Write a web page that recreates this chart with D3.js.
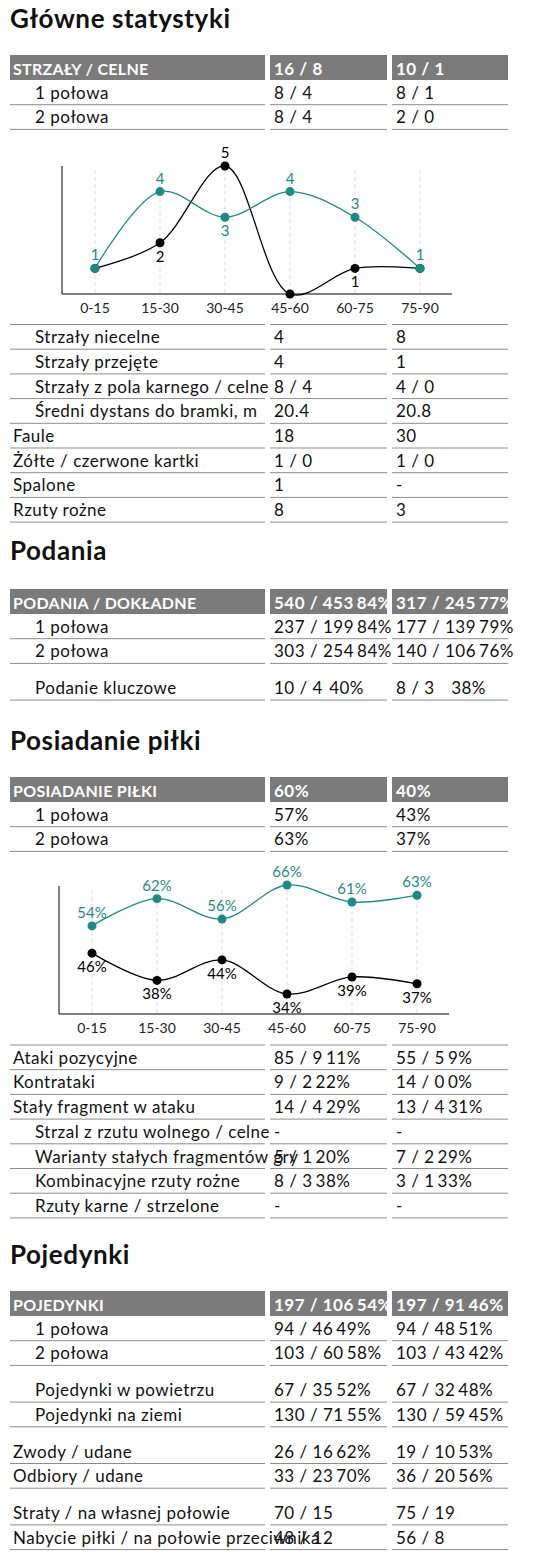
<!DOCTYPE html>
<html><head><meta charset="utf-8">
<script src="https://cdn.jsdelivr.net/npm/d3@7"></script>
<style>
body{margin:0;background:#fff}
svg text{font-family:Lato,"Open Sans",sans-serif}
</style></head>
<body><svg id="c" width="559" height="1566"></svg>
<script>
// ---- data ----
var periods = ["0-15","15-30","30-45","45-60","60-75","75-90"];
var shotsTeam1 = [1,4,3,4,3,1];
var shotsTeam2 = [1,2,5,0,1,1];
var possTeam1 = [54,62,56,66,61,63];
var possTeam2 = [46,38,44,34,39,37];

// [label, indent, value1, pct1, value2, pct2]; null = spacer
var shotsHeader = ["STRZAŁY / CELNE","16 / 8","","10 / 1",""];
var shotsRowsA = [
  ["1 połowa",1,"8 / 4","","8 / 1",""],
  ["2 połowa",1,"8 / 4","","2 / 0",""]
];
var shotsRowsB = [
  ["Strzały niecelne",1,"4","","8",""],
  ["Strzały przejęte",1,"4","","1",""],
  ["Strzały z pola karnego / celne",1,"8 / 4","","4 / 0",""],
  ["Średni dystans do bramki, m",1,"20.4","","20.8",""],
  ["Faule",0,"18","","30",""],
  ["Żółte / czerwone kartki",0,"1 / 0","","1 / 0",""],
  ["Spalone",0,"1","","-",""],
  ["Rzuty rożne",0,"8","","3",""]
];
var passHeader = ["PODANIA / DOKŁADNE","540 / 453","84%","317 / 245","77%"];
var passRows = [
  ["1 połowa",1,"237 / 199","84%","177 / 139","79%"],
  ["2 połowa",1,"303 / 254","84%","140 / 106","76%"],
  null,
  ["Podanie kluczowe",1,"10 / 4","40%","8 / 3","38%"]
];
var possHeader = ["POSIADANIE PIŁKI","60%","","40%",""];
var possRowsA = [
  ["1 połowa",1,"57%","","43%",""],
  ["2 połowa",1,"63%","","37%",""]
];
var possRowsB = [
  ["Ataki pozycyjne",0,"85 / 9","11%","55 / 5","9%"],
  ["Kontrataki",0,"9 / 2","22%","14 / 0","0%"],
  ["Stały fragment w ataku",0,"14 / 4","29%","13 / 4","31%"],
  ["Strzal z rzutu wolnego / celne",1,"-","","-",""],
  ["Warianty stałych fragmentów gry",1,"5 / 1","20%","7 / 2","29%"],
  ["Kombinacyjne rzuty rożne",1,"8 / 3","38%","3 / 1","33%"],
  ["Rzuty karne /  strzelone",1,"-","","-",""]
];
var duelHeader = ["POJEDYNKI","197 / 106","54%","197 / 91","46%"];
var duelRows = [
  ["1 połowa",1,"94 / 46","49%","94 / 48","51%"],
  ["2 połowa",1,"103 / 60","58%","103 / 43","42%"],
  null,
  ["Pojedynki w powietrzu",1,"67 / 35","52%","67 / 32","48%"],
  ["Pojedynki na ziemi",1,"130 / 71","55%","130 / 59","45%"],
  null,
  ["Zwody / udane",0,"26 / 16","62%","19 / 10","53%"],
  ["Odbiory / udane",0,"33 / 23","70%","36 / 20","56%"],
  null,
  ["Straty / na własnej połowie",0,"70 / 15","","75 / 19",""],
  ["Nabycie piłki / na połowie przeciwnika",0,"48 / 12","","56 / 8",""]
];

// ---- drawing ----
var svg = d3.select("#c");
var TEAL = "#1f8a85", LINE = "#8c8c8c", HEAD = "#7b7b7b";
var cols = [[10,265],[270,387],[392,508]];
var rowH = 24.7;
var FS = 17, LS = 0.5;

function title(t, y) {
  svg.append("text").attr("x",10).attr("y",y).attr("font-size",26).attr("letter-spacing",0.6)
    .attr("font-weight",700).attr("fill","#111").text(t);
}

function cell(g, x, y, val, pct, pctRight, color, bold) {
  var t = g.append("text").attr("x",x).attr("y",y).attr("font-size",FS).attr("letter-spacing",LS)
    .attr("fill",color).attr("font-weight",bold?700:400).text(val);
  if (!pct) return;
  var end = x + t.node().getComputedTextLength();
  var p = g.append("text").attr("y",y).attr("font-size",FS).attr("letter-spacing",LS)
    .attr("fill",color).attr("font-weight",bold?700:400).text(pct);
  var w = p.node().getComputedTextLength();
  p.attr("x", Math.max(end + 3, pctRight - w));
}

function header(h, top, pr) {
  var g = svg.append("g");
  cols.forEach(function(c){
    g.append("rect").attr("x",c[0]).attr("y",top).attr("width",c[1]-c[0]).attr("height",25).attr("fill",HEAD);
  });
  g.append("text").attr("x",13).attr("y",top+20).attr("font-size",16).attr("font-weight",700)
    .attr("letter-spacing",0.3).attr("fill","#fff").text(h[0]);
  cell(g,274,top+20,h[1],h[2],pr[0],"#fff",true);
  cell(g,396,top+20,h[3],h[4],pr[1],"#fff",true);
  return top + 25;
}

function topLine(y) {
  cols.forEach(function(c){
    svg.append("line").attr("x1",c[0]).attr("x2",c[1]).attr("y1",y).attr("y2",y)
      .attr("stroke",LINE).attr("stroke-width",1);
  });
}

function rows(list, y, pr) {
  list.forEach(function(r){
    if (r === null) { y += 12; return; }
    y += rowH;
    var g = svg.append("g");
    g.append("text").attr("x", r[1] ? 35 : 13).attr("y", y-6).attr("font-size",FS)
      .attr("letter-spacing",LS).attr("fill","#111").text(r[0]);
    cell(g,274,y-6,r[2],r[3],pr[0],"#111",false);
    cell(g,396,y-6,r[4],r[5],pr[1],"#111",false);
    topLine(y);
  });
  return y;
}

function lineChart(o) {
  var x = d3.scalePoint().domain(periods).range([o.x0,o.x1]);
  var y = d3.scaleLinear().domain(o.domain).range(o.range);
  var g = svg.append("g");
  periods.forEach(function(p){
    g.append("line").attr("x1",x(p)).attr("x2",x(p)).attr("y1",o.top+4).attr("y2",o.axisY)
      .attr("stroke","#ddd").attr("stroke-dasharray","4,3");
  });
  g.append("line").attr("x1",o.axisX).attr("x2",o.axisX).attr("y1",o.top).attr("y2",o.axisY).attr("stroke","#000");
  g.append("line").attr("x1",o.axisX).attr("x2",o.axisRight).attr("y1",o.axisY).attr("y2",o.axisY).attr("stroke","#000");
  periods.forEach(function(p){
    g.append("text").attr("x",x(p)).attr("y",o.axisY+19).attr("text-anchor","middle")
      .attr("font-family","DejaVu Sans").attr("font-size",14).attr("fill","#222").text(p);
  });
  var line = d3.line().x(function(d,i){return x(periods[i]);}).y(function(d){return y(d);})
    .curve(d3.curveCatmullRom);
  var series = [[o.b,"#000",o.a],[o.a,TEAL,o.b]];
  series.forEach(function(s){
    g.append("path").attr("d",line(s[0])).attr("fill","none").attr("stroke",s[1]).attr("stroke-width",1.3);
  });
  series.forEach(function(s,k){
    s[0].forEach(function(v,i){
      var cx = x(periods[i]), cy = y(v);
      g.append("circle").attr("cx",cx).attr("cy",cy).attr("r",4.5).attr("fill",s[1]);
      var other = s[2][i];
      if (v === 0) return;
      if (k === 0 && v === other) return;
      var above = v > other || (k === 1 && v === other);
      g.append("text").attr("x",cx).attr("y", above ? cy-8 : cy+19).attr("text-anchor","middle")
        .attr("font-family","DejaVu Sans").attr("font-size",15).attr("fill",s[1])
        .text(v + o.suffix);
    });
  });
}

// Section 1
title("Główne statystyki", 28);
var y = header(shotsHeader, 55, [0,0]);
rows(shotsRowsA, y, [0,0]);
lineChart({x0:95,x1:420,domain:[0,5],range:[294,166],top:166,axisY:294,axisX:62,axisRight:452,
  a:shotsTeam1,b:shotsTeam2,suffix:""});
topLine(324.5);
rows(shotsRowsB, 324.5, [0,0]);

// Section 2
title("Podania", 560);
y = header(passHeader, 589, [364,486]);
rows(passRows, y, [364,486]);

// Section 3
title("Posiadanie piłki", 750);
y = header(possHeader, 777, [0,0]);
rows(possRowsA, y, [0,0]);
lineChart({x0:92,x1:417,domain:[34,66],range:[994,885],top:886,axisY:1014,axisX:59,axisRight:449,
  a:possTeam1,b:possTeam2,suffix:"%"});
topLine(1045);
rows(possRowsB, 1045, [342,463]);

// Section 4
title("Pojedynki", 1264);
y = header(duelHeader, 1291, [363,478]);
rows(duelRows, y, [363,478]);
</script></body></html>
